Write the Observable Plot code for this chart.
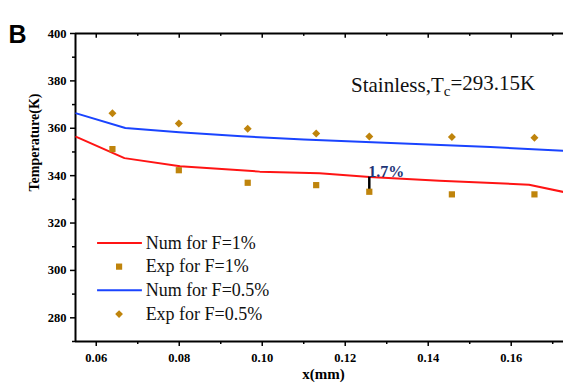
<!DOCTYPE html>
<html>
<head>
<meta charset="utf-8">
<script src="https://cdn.jsdelivr.net/npm/d3@7"></script>
<script src="https://cdn.jsdelivr.net/npm/@observablehq/plot@0.6"></script>
<style>
  html, body { margin: 0; padding: 0; background: #fff; }
  #chart { width: 563px; height: 387px; }
  #chart svg { font-family: "Liberation Serif", "Times New Roman", serif; }
</style>
</head>
<body>
<div id="chart"></div>
<script>
// ---- data ----
const numX1 = [0.0552, 0.0668, 0.0802, 0.0994, 0.1138, 0.1259, 0.1427, 0.1643, 0.1726];
const numT1 = [356.4, 347.4, 344.0, 341.7, 341.0, 339.4, 337.8, 336.2, 333.1];
const numX05 = [0.0552, 0.0670, 0.0800, 0.0950, 0.1100, 0.1250, 0.1400, 0.1550, 0.1726];
const numT05 = [366.3, 360.1, 358.3, 356.6, 355.3, 354.2, 353.2, 352.1, 350.5];
const expX = [0.0639, 0.0799, 0.0965, 0.1130, 0.1258, 0.1457, 0.1656];
const expT1 = [351.2, 342.3, 337.0, 336.0, 333.2, 332.1, 332.1];
const expT05 = [366.3, 362.0, 359.8, 357.8, 356.5, 356.3, 356.0];
const seriesNames = ["Num for F=1%", "Exp for F=1%", "Num for F=0.5%", "Exp for F=0.5%"];
const xMajor = [0.06, 0.08, 0.10, 0.12, 0.14, 0.16];
const xMinor = [0.07, 0.09, 0.11, 0.13, 0.15, 0.17];
const yMajor = [280, 300, 320, 340, 360, 380, 400];
const yMinor = [270, 290, 310, 330, 350, 370, 390];
const errIndex = 4;            // experimental point carrying the error bar
const errLabel = "1.7%";
const annoMain = "Stainless,T", annoSub = "c", annoRest = "=293.15K";
const panelLabel = "B";
const xLabel = "x(mm)";
const yLabel = "Temperature(K)";

// ---- styles / layout ----
const RED = "#ff1414", BLUE = "#1a44ff", GOLD = "#bf840c", NAVY = "#1d3577";
const serif = "Liberation Serif, Times New Roman, serif";
const xDomain = [0.055, 0.1726], yDomain = [270, 400];
const legend = {x0: 0.0602, x1: 0.0710, xm: 0.0655, xt: 0.0719, yTop: 311.6, step: 10};
const anno = {x: 0.1214, y: 378.3};

const line1 = numX1.map((x, i) => ({x, y: numT1[i]}));
const line05 = numX05.map((x, i) => ({x, y: numT05[i]}));
const exp1 = expX.map((x, i) => ({x, y: expT1[i]}));
const exp05 = expX.map((x, i) => ({x, y: expT05[i]}));
const err = [{x: expX[errIndex], y1: expT1[errIndex], y2: numT1[5]}];

const legendRows = seriesNames.map((name, i) => ({name, i, y: legend.yTop - i * legend.step}));
const legLines = legendRows.filter(d => d.i % 2 === 0).map(d => ({...d, color: d.i === 0 ? RED : BLUE}));
const legDots = legendRows.filter(d => d.i % 2 === 1).map(d => ({...d, symbol: d.i === 1 ? "square" : "diamond2"}));

const chart = Plot.plot({
  width: 563,
  height: 387,
  marginLeft: 75,
  marginRight: 0,
  marginTop: 33,
  marginBottom: 46,
  x: {domain: xDomain},
  y: {domain: yDomain},
  style: "font-family: 'Liberation Serif', 'Times New Roman', serif; background: #fff; color: #000; overflow: visible;",
  marks: [
    // axes
    Plot.axisX({ticks: xMajor, tickSize: 5, tickPadding: 7, tickFormat: d => d.toFixed(2),
      fontSize: 12.5, fontWeight: "bold", fontFamily: serif, strokeWidth: 1.5, label: null}),
    Plot.axisX({ticks: xMinor, tickSize: 3, tickFormat: () => "", strokeWidth: 1.5, label: null}),
    Plot.axisY({ticks: yMajor, tickSize: 5, tickPadding: 4, fontSize: 12.5, fontWeight: "bold",
      fontFamily: serif, strokeWidth: 1.5, label: null}),
    Plot.axisY({ticks: yMinor, tickSize: 3, tickFormat: () => "", strokeWidth: 1.5, label: null}),
    Plot.ruleX(xMajor, {y1: 400, y2: 398, stroke: "#000", strokeWidth: 1.5}),
    Plot.ruleX(xMinor.filter(d => d <= xDomain[1]), {y1: 400, y2: 398.8, stroke: "#000", strokeWidth: 1.5}),
    Plot.ruleY([yDomain[0]], {stroke: "#000", strokeWidth: 2}),
    Plot.ruleY([yDomain[1]], {stroke: "#000", strokeWidth: 2}),
    Plot.ruleX([xDomain[0]], {stroke: "#000", strokeWidth: 2}),
    // data
    Plot.line(line1, {x: "x", y: "y", stroke: RED, strokeWidth: 2}),
    Plot.line(line05, {x: "x", y: "y", stroke: BLUE, strokeWidth: 2}),
    Plot.ruleX(err, {x: "x", y1: "y1", y2: "y2", stroke: "#000", strokeWidth: 2.5}),
    Plot.dot(exp1, {x: "x", y: "y", symbol: "square", r: 3.5, fill: GOLD, stroke: null}),
    Plot.dot(exp05, {x: "x", y: "y", symbol: "diamond2", r: 3.6, fill: GOLD, stroke: null}),
    // annotations
    Plot.text([errLabel], {x: expX[errIndex], y: 341.6, text: d => d, textAnchor: "start",
      fill: NAVY, fontSize: 16, fontWeight: "bold", fontFamily: serif, dx: -1}),
    Plot.text([annoMain + annoSub + annoRest], {x: anno.x, y: anno.y, text: d => d, textAnchor: "start",
      fontSize: 21, fill: "#111", fontFamily: serif}),
    // legend
    Plot.link(legLines, {x1: legend.x0, x2: legend.x1, y1: "y", y2: "y", stroke: "color", strokeWidth: 2}),
    Plot.dot(legDots, {x: legend.xm, y: "y", symbol: "symbol", r: 3.5, fill: GOLD, stroke: null}),
    Plot.text(legendRows, {x: legend.xt, y: "y", text: "name", textAnchor: "start", fontSize: 18,
      fill: "#111", fontFamily: serif}),
    // labels
    Plot.text([yLabel], {frameAnchor: "left", text: d => d, rotate: -90, dx: -41, dy: 4,
      fontSize: 14, fontWeight: "bold", fontFamily: serif}),
    Plot.text([xLabel], {frameAnchor: "bottom", text: d => d, dx: 4, dy: 37,
      fontSize: 15, fontWeight: "bold", fontFamily: serif}),
    Plot.text([panelLabel], {frameAnchor: "top-left", text: d => d, textAnchor: "start", dx: -67, dy: -8,
      fontSize: 25, fontWeight: "bold", fontFamily: "Liberation Sans, Arial, sans-serif"})
  ]
});

// subscript in the annotation
d3.select(chart).selectAll("text").each(function() {
  if (this.textContent === annoMain + annoSub + annoRest) {
    const t = d3.select(this);
    t.text(null);
    t.append("tspan").text(annoMain);
    t.append("tspan").attr("dy", "0.3em").attr("font-size", "15px").text(annoSub);
    t.append("tspan").attr("dy", "-0.3em").text(annoRest);
  }
});

document.getElementById("chart").appendChild(chart);
</script>
</body>
</html>
